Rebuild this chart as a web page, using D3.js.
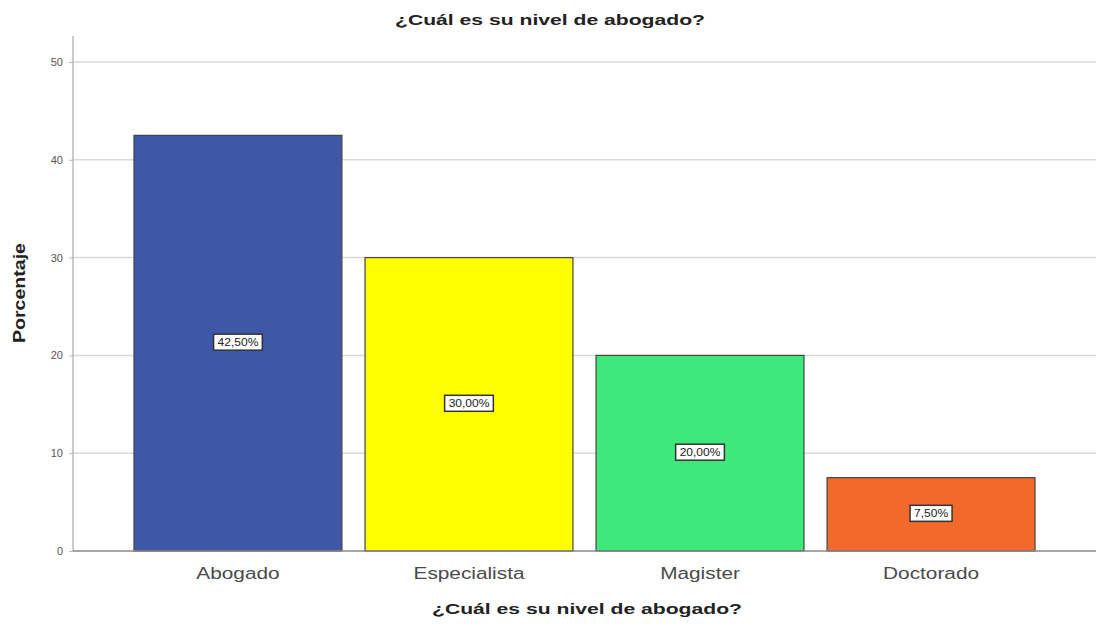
<!DOCTYPE html>
<html><head><meta charset="utf-8">
<script src="https://cdn.jsdelivr.net/npm/d3@7"></script>
<style>body{margin:0;background:#fff}svg{display:block}</style>
</head><body>
<script>
const categories = ["Abogado", "Especialista", "Magister", "Doctorado"];
const values = [42.5, 30.0, 20.0, 7.5];
const labels = ["42,50%", "30,00%", "20,00%", "7,50%"];
const colors = ["#3e57a7", "#ffff00", "#3ee87b", "#f26a2b"];
const yTicks = [0, 10, 20, 30, 40, 50];

const W = 1096, H = 627;
const FONT = "Arial, Liberation Sans, sans-serif";
const svg = d3.select("body").append("svg").attr("width", W).attr("height", H);
const x = d3.scaleBand().domain(categories).range([73, 1096]).paddingInner(0.1).paddingOuter(0.264);
const y = d3.scaleLinear().domain([0, 50]).range([551, 62]);

function stretch(sel, f) {
  sel.each(function () {
    const len = this.getComputedTextLength();
    d3.select(this).attr("textLength", len * f).attr("lengthAdjust", "spacingAndGlyphs");
  });
}

// gridlines
svg.append("g").selectAll("line").data(yTicks.filter(d => d > 0)).join("line")
  .attr("x1", 73).attr("x2", W).attr("y1", d => y(d)).attr("y2", d => y(d))
  .attr("stroke", "#d9d9d9").attr("stroke-width", 1.5);

// y axis
const ya = svg.append("g").attr("transform", "translate(73,0)")
  .call(d3.axisLeft(y).tickValues(yTicks).tickSize(4).tickPadding(6));
ya.select(".domain").remove();
ya.selectAll(".tick line").attr("stroke", "#bbb");
ya.selectAll("text").attr("font-family", FONT).attr("font-size", 11).attr("fill", "#555");
svg.append("line").attr("x1", 73).attr("x2", 73).attr("y1", 36).attr("y2", 551).attr("stroke", "#aaa").attr("stroke-width", 1.2);

// bars
svg.append("g").selectAll("rect").data(categories).join("rect")
  .attr("x", d => x(d)).attr("width", x.bandwidth())
  .attr("y", (d, i) => y(values[i])).attr("height", (d, i) => y(0) - y(values[i]))
  .attr("fill", (d, i) => colors[i]).attr("stroke", "#444").attr("stroke-width", 1.2);

// baseline
svg.append("line").attr("x1", 73).attr("x2", W).attr("y1", 551).attr("y2", 551).attr("stroke", "#888").attr("stroke-width", 1.5);

// value labels
const lg = svg.append("g").selectAll("g").data(categories).join("g")
  .attr("transform", (d, i) => `translate(${x(d) + x.bandwidth() / 2},${(y(values[i]) + y(0)) / 2 - 1})`);
const lr = lg.append("rect").attr("y", -8).attr("height", 16)
  .attr("fill", "#fff").attr("stroke", "#333").attr("stroke-width", 1.5);
const vt = lg.append("text").attr("text-anchor", "middle").attr("dy", "0.35em")
  .attr("font-family", FONT).attr("font-size", 10).attr("fill", "#222")
  .text((d, i) => labels[i]);
stretch(vt, 1.2);
lr.each(function (d, i) {
  const w = +vt.nodes()[i].getAttribute("textLength") + 8;
  d3.select(this).attr("x", -w / 2).attr("width", w);
});

// x axis labels
const xa = svg.append("g").attr("transform", "translate(0,551)")
  .call(d3.axisBottom(x).tickSize(0).tickPadding(17));
xa.select(".domain").remove();
const xt = xa.selectAll("text").attr("font-family", FONT).attr("font-size", 16).attr("fill", "#4a4a4a");
stretch(xt, 1.3);

// titles
const t1 = svg.append("text").attr("x", 550).attr("y", 25).attr("text-anchor", "middle")
  .attr("font-family", FONT).attr("font-size", 15).attr("font-weight", "bold").attr("fill", "#222")
  .text("¿Cuál es su nivel de abogado?");
const t2 = svg.append("text").attr("x", 587).attr("y", 614).attr("text-anchor", "middle")
  .attr("font-family", FONT).attr("font-size", 15).attr("font-weight", "bold").attr("fill", "#222")
  .text("¿Cuál es su nivel de abogado?");
[t1, t2].forEach(t => t.attr("textLength", 310).attr("lengthAdjust", "spacingAndGlyphs"));
svg.append("text").attr("transform", "translate(25,293) rotate(-90)").attr("text-anchor", "middle")
  .attr("font-family", FONT).attr("font-size", 16).attr("font-weight", "bold").attr("fill", "#222")
  .attr("textLength", 100).attr("lengthAdjust", "spacingAndGlyphs")
  .text("Porcentaje");
</script>
</body></html>
